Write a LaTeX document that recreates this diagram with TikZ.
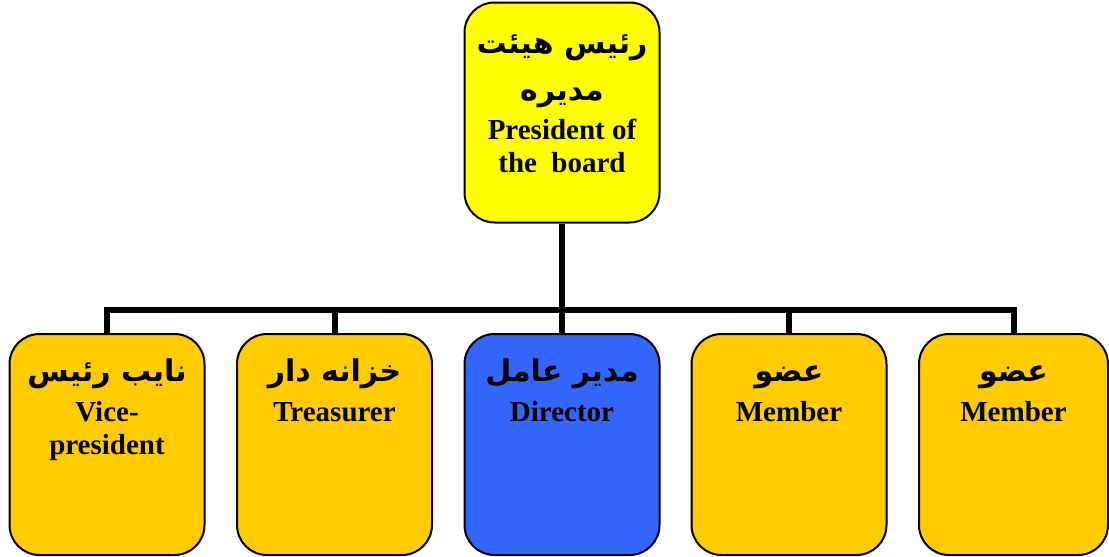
\documentclass[tikz,border=0pt]{standalone}
\usepackage{fontspec}
\setmainfont{Liberation Serif}
\newfontfamily\arabicfont[Script=Arabic]{DejaVu Sans}
\TeXXeTstate=1
\usetikzlibrary{positioning}
\definecolor{yellowbox}{HTML}{FFFF00}
\definecolor{goldbox}{HTML}{FFCC00}
\definecolor{bluebox}{HTML}{3366FF}
\newcommand\fa[1]{{\arabicfont\fontsize{15}{19}\selectfont\rule{0pt}{12pt}\beginR #1\endR}}
\tikzset{
	post/.style={draw, line width=1pt, rounded corners=15pt, minimum width=97.5pt, minimum height=110.5pt, inner sep=0pt, fill=goldbox},
	caption/.style={align=center, inner sep=0pt, font=\fontsize{14.5}{16.5}\selectfont\bfseries},
	wire/.style={line width=3pt}
}

\begin{document}
\begin{tikzpicture}[x=0.5pt, y=-0.5pt]
		%%%%% FRAME %%%%%
		\useasboundingbox (0, 0) rectangle (1109, 557);
		
		\coordinate (bus) at (562, 310);
		
		\node[post, fill=yellowbox, minimum height=110pt] (pres) at (562, 112.5) {};
		\node[post] (vp) at (107, 444.5) {};
		\node[post] (tr) at (334.5, 444.5) {};
		\node[post, fill=bluebox] (dir) at (562, 444.5) {};
		\node[post] (m1) at (789, 444.5) {};
		\node[post, minimum width=94.5pt] (m2) at (1013.5, 444.5) {};
		
		%%%%% WIRES %%%%%
		\draw[wire] (pres.south) -- (pres.south |- bus);
		\draw[wire] (vp.north) |- (m2.north |- bus) -- (m2.north);
		\draw[wire] (tr.north) -- (tr.north |- bus);
		\draw[wire] (dir.north) -- (dir.north |- bus);
		\draw[wire] (m1.north) -- (m1.north |- bus);
		
		%%%%% TEXT %%%%%
		\node[caption, below=14pt of pres.north] (pres-t) {\fa{رئیس هیئت}\\[7pt] \fa{مدیره}\\[3pt] President of\\ the~~board};
		\node[caption, below=12pt of vp.north] (vp-t) {\fa{نایب رئیس}\\[3.5pt] Vice-\\ president};
		\node[caption, below=12pt of tr.north] (tr-t) {\fa{خزانه دار}\\[3.5pt] Treasurer};
		\node[caption, below=12pt of dir.north] (dir-t) {\fa{مدیر عامل}\\[3.5pt] Director};
		\node[caption, below=12pt of m1.north] (m1-t) {\fa{عضو}\\[3.5pt] Member};
		\node[caption, below=12pt of m2.north] (m2-t) {\fa{عضو}\\[3.5pt] Member};
\end{tikzpicture}
\end{document}
